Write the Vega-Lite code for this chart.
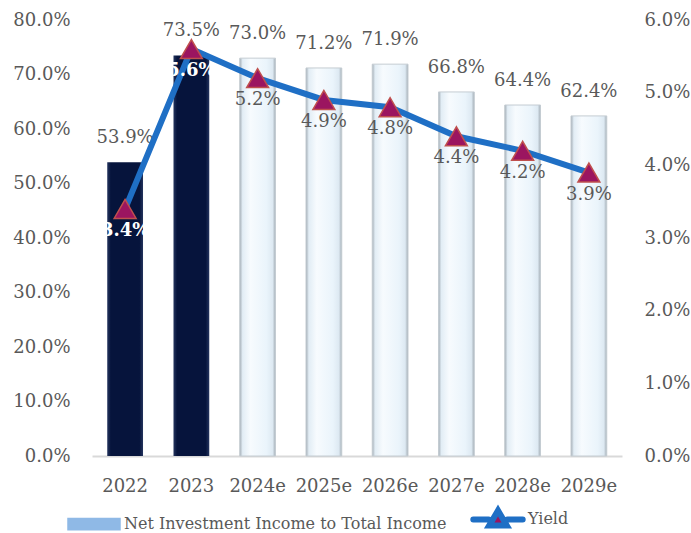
{
  "$schema": "https://vega.github.io/schema/vega-lite/v6.json",
  "width": 530,
  "height": 436,
  "autosize": {"type": "none"},
  "padding": {"left": 92, "top": 20, "right": 69, "bottom": 77},
  "background": "white",
  "config": {
    "font": "DejaVu Serif",
    "view": {"stroke": null},
    "axis": {"labelFont": "DejaVu Serif", "labelFontSize": 18, "labelColor": "#595959", "grid": false, "ticks": false, "domain": false, "title": null}
  },
  "data": {"values": [
    {"year": "2022", "nii": 0.539, "yield": 0.034, "kind": "actual"},
    {"year": "2023", "nii": 0.735, "yield": 0.056, "kind": "actual"},
    {"year": "2024e", "nii": 0.730, "yield": 0.052, "kind": "estimate"},
    {"year": "2025e", "nii": 0.712, "yield": 0.049, "kind": "estimate"},
    {"year": "2026e", "nii": 0.719, "yield": 0.048, "kind": "estimate"},
    {"year": "2027e", "nii": 0.668, "yield": 0.044, "kind": "estimate"},
    {"year": "2028e", "nii": 0.644, "yield": 0.042, "kind": "estimate"},
    {"year": "2029e", "nii": 0.624, "yield": 0.039, "kind": "estimate"}
  ]},
  "encoding": {
    "x": {"field": "year", "type": "ordinal", "sort": null,
      "scale": {"paddingInner": 0.46, "paddingOuter": 0.23},
      "axis": {"labelPadding": 21, "domain": true, "domainColor": "#d9d9d9", "domainWidth": 2, "labelAngle": 0}}
  },
  "layer": [
    {
      "encoding": {
        "y": {"field": "nii", "type": "quantitative", "scale": {"domain": [0, 0.8]},
          "axis": {"values": [0, 0.1, 0.2, 0.3, 0.4, 0.5, 0.6, 0.7, 0.8], "format": ".1%", "labelPadding": 22}}
      },
      "layer": [
        {
          "transform": [{"filter": "datum.kind === 'actual'"}],
          "mark": {"type": "bar", "fill": {"gradient": "linear", "x1": 0, "x2": 1, "y1": 0, "y2": 0,
            "stops": [{"offset": 0, "color": "#24345e"}, {"offset": 0.1, "color": "#06143c"}, {"offset": 0.9, "color": "#06143c"}, {"offset": 1, "color": "#24345e"}]}}
        },
        {
          "transform": [{"filter": "datum.kind === 'estimate'"}],
          "mark": {"type": "bar", "stroke": "#c4ccd2", "strokeWidth": 1, "fill": {"gradient": "linear", "x1": 0, "x2": 1, "y1": 0, "y2": 0,
            "stops": [{"offset": 0, "color": "#a3adb5"}, {"offset": 0.08, "color": "#e2edf5"}, {"offset": 0.3, "color": "#f7fbfe"}, {"offset": 0.75, "color": "#eaf4fb"}, {"offset": 0.92, "color": "#dde9f2"}, {"offset": 1, "color": "#a3adb5"}]}}
        },
        {
          "mark": {"type": "text", "baseline": "middle", "dy": -24, "fontSize": 18, "color": "#595959", "font": "DejaVu Serif"},
          "encoding": {"text": {"field": "nii", "type": "quantitative", "format": ".1%"}}
        }
      ]
    },
    {
      "encoding": {
        "y": {"field": "yield", "type": "quantitative", "scale": {"domain": [0, 0.06]},
          "axis": {"orient": "right", "values": [0, 0.01, 0.02, 0.03, 0.04, 0.05, 0.06], "format": ".1%", "labelPadding": 22}}
      },
      "layer": [
        {
          "mark": {"type": "line", "strokeWidth": 6},
          "encoding": {
            "color": {"datum": "Yield", "type": "nominal",
              "scale": {"domain": ["Net Investment Income to Total Income", "Yield"], "range": ["#8fb9e6", "#1f6fc5"]},
              "legend": {
                "orient": "none", "legendX": -6, "legendY": 491, "direction": "horizontal", "title": null,
                "labelFont": "DejaVu Serif", "labelFontSize": 16, "labelColor": "#595959", "labelLimit": 0,
                "symbolSize": 2704, "labelOffset": 22, "columnPadding": 14,
                "symbolType": "M-1,-0.22H1V0.22H-1Z",
                "encode": {"symbols": {"update": {
                  "shape": {"signal": "datum.value === 'Yield' ? 'M-0.95,0H-0.36M0.36,0H0.95M-0.34,0.24L0,-0.34L0.34,0.24Z' : 'M-1,-0.22H1V0.22H-1Z'"},
                  "fill": {"signal": "datum.value === 'Yield' ? '#9b1560' : '#8fb9e6'"},
                  "stroke": {"signal": "datum.value === 'Yield' ? '#1f6fc5' : '#3a66a3'"},
                  "strokeWidth": {"signal": "datum.value === 'Yield' ? 6 : 1.5"},
                  "strokeCap": {"value": "round"},
                  "opacity": {"value": 1}
                }}}
              }}
          }
        },
        {
          "mark": {"type": "point", "shape": "triangle-up", "filled": true, "fill": "#9b1560", "stroke": "#c0504d", "strokeWidth": 1.5, "size": 480, "opacity": 1}
        },
        {
          "transform": [{"filter": "datum.kind === 'actual'"}],
          "mark": {"type": "text", "baseline": "middle", "dy": 22, "fontSize": 18, "fontWeight": "bold", "color": "white", "font": "DejaVu Serif"},
          "encoding": {"text": {"field": "yield", "type": "quantitative", "format": ".1%"}}
        },
        {
          "transform": [{"filter": "datum.kind === 'estimate'"}],
          "mark": {"type": "text", "baseline": "middle", "dy": 22, "fontSize": 18, "color": "#595959", "font": "DejaVu Serif"},
          "encoding": {"text": {"field": "yield", "type": "quantitative", "format": ".1%"}}
        }
      ]
    }
  ],
  "resolve": {"scale": {"y": "independent"}}
}
